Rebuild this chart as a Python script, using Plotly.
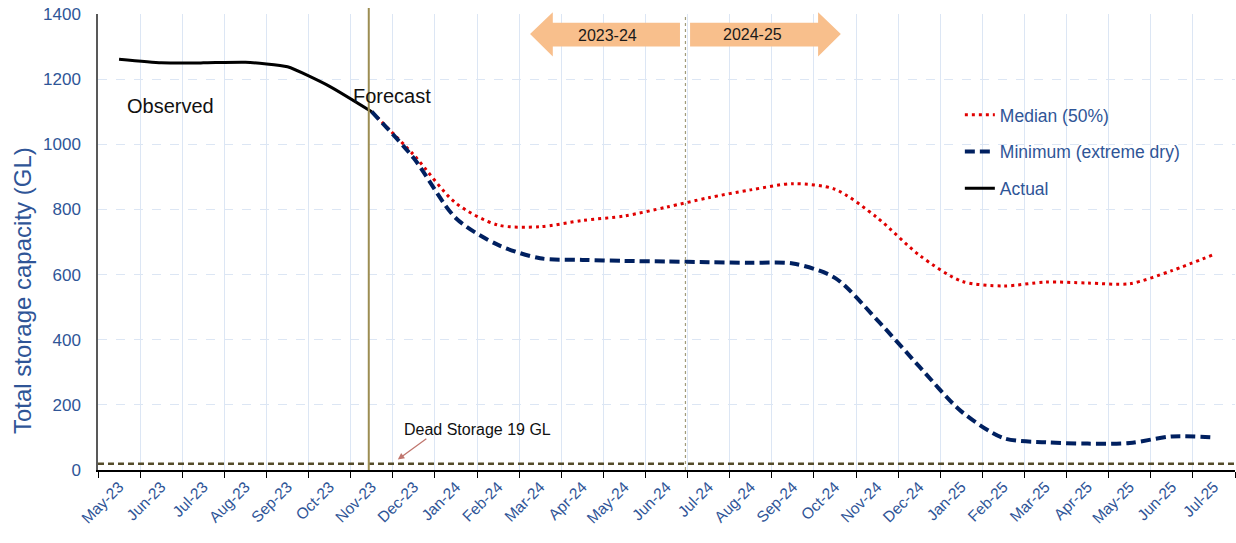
import plotly.graph_objects as go

months = ["May-23","Jun-23","Jul-23","Aug-23","Sep-23","Oct-23","Nov-23","Dec-23",
          "Jan-24","Feb-24","Mar-24","Apr-24","May-24","Jun-24","Jul-24","Aug-24",
          "Sep-24","Oct-24","Nov-24","Dec-24","Jan-25","Feb-25","Mar-25","Apr-25",
          "May-25","Jun-25","Jul-25"]

actual_months = months[0:7]
actual = [1261, 1250, 1250, 1252, 1238, 1178, 1100]

forecast_months = months[6:]
median = [1100, 967, 819, 752, 747, 766, 780, 807, 836, 860, 879, 862, 775, 660,
          580, 565, 577, 574, 572, 612, 662]
minimum = [1100, 957, 773, 691, 650, 645, 642, 640, 638, 636, 634, 590, 461, 318,
           180, 98, 85, 81, 83, 103, 100]

dead_storage = 19
yticks = [0, 200, 400, 600, 800, 1000, 1200, 1400]

idx = {m: i for i, m in enumerate(months)}
FONT = "Liberation Sans, Arial, sans-serif"
BLUE_TXT = "#2F5597"

fig = go.Figure()

fig.add_trace(go.Scatter(
    x=[idx[m] for m in forecast_months], y=median, mode="lines",
    name="Median (50%)", legendgroup="a",
    line=dict(color="#E00000", width=3, dash="3px,4px", shape="spline", smoothing=0.8)))
fig.add_trace(go.Scatter(
    x=[idx[m] for m in forecast_months], y=minimum, mode="lines",
    name="Minimum (extreme dry)", legendgroup="b",
    line=dict(color="#002060", width=4, dash="10px,5px", shape="spline", smoothing=0.8)))
fig.add_trace(go.Scatter(
    x=[idx[m] for m in actual_months], y=actual, mode="lines",
    name="Actual", legendgroup="c",
    line=dict(color="#000000", width=3, shape="spline", smoothing=0.5)))

# dead storage line
fig.add_hline(y=dead_storage, line=dict(color="#554C2A", width=2.5, dash="6px,4px"), layer="above")

# forecast vertical line
fig.add_shape(type="line", xref="x", yref="paper", x0=5.93, x1=5.93, y0=0, y1=1.013,
              line=dict(color="#9C8D52", width=2), layer="above")
# financial year divider
fig.add_shape(type="line", xref="x", yref="paper", x0=13.45, x1=13.45, y0=0, y1=1,
              line=dict(color="#A09B7A", width=1.2, dash="dot"), layer="above")

ARROW = "#F8BF8C"
# left arrow 2023-24
fig.add_shape(type="path", xref="x", yref="paper", fillcolor=ARROW, line=dict(width=0),
              path="M 9.76 0.956 L 10.30 1.004 L 10.30 0.981 L 13.32 0.981 L 13.32 0.929 "
                   "L 10.30 0.929 L 10.30 0.907 Z")
# right arrow 2024-25
fig.add_shape(type="path", xref="x", yref="paper", fillcolor=ARROW, line=dict(width=0),
              path="M 17.14 0.956 L 16.60 1.004 L 16.60 0.981 L 13.56 0.981 L 13.56 0.929 "
                   "L 16.60 0.929 L 16.60 0.907 Z")

ARR_FONT = dict(size=16, color="#1A1A1A", family="Liberation Sans, Arial")
ann = [
    dict(x=11.6, y=0.953, xref="x", yref="paper", text="2023-24", showarrow=False,
         xanchor="center", yanchor="middle", font=ARR_FONT),
    dict(x=15.05, y=0.956, xref="x", yref="paper", text="2024-25", showarrow=False,
         xanchor="center", yanchor="middle", font=ARR_FONT),
    dict(x=1.21, y=1117, text="Observed", showarrow=False, xanchor="center", yanchor="middle",
         font=dict(size=20, color="#111111")),
    dict(x=6.48, y=1148, text="Forecast", showarrow=False, xanchor="center", yanchor="middle",
         font=dict(size=20, color="#111111")),
    dict(x=8.5, y=124, text="Dead Storage 19 GL", showarrow=False, xanchor="center",
         yanchor="middle", font=dict(size=16, color="#111111")),
    dict(x=6.62, y=32, ax=30, ay=-22, text="", showarrow=True, arrowhead=2, arrowsize=1,
         arrowwidth=1.3, arrowcolor="#C0766E"),
    dict(x=-0.0668, y=0.3925, xref="paper", yref="paper", text="Total storage capacity (GL)",
         textangle=-90, showarrow=False, xanchor="center", yanchor="middle",
         font=dict(size=24, color=BLUE_TXT)),
]

fig.update_layout(
    width=1236, height=543,
    margin=dict(l=98, r=1, t=14, b=73, autoexpand=False),
    paper_bgcolor="white", plot_bgcolor="white",
    font=dict(family=FONT, color=BLUE_TXT),
    annotations=ann,
    showlegend=True,
    legend=dict(x=0.758, y=0.818, xanchor="left", yanchor="top",
                font=dict(size=17.5, color=BLUE_TXT), bgcolor="rgba(0,0,0,0)",
                tracegroupgap=11, itemwidth=30),
)

fig.update_xaxes(
    range=[-0.5, 26.5], tickmode="array", tickvals=list(range(len(months))), ticktext=months,
    tickangle=-45, tickfont=dict(size=15.5, color=BLUE_TXT), ticks="", showgrid=False,
    showline=True, linecolor="#000000", linewidth=1.5, zeroline=False, automargin=False,
    minor=dict(tickmode="linear", tick0=-0.5, dtick=1, ticks="outside", ticklen=6,
               tickcolor="#000000", showgrid=True, gridcolor="#DCE6F4", gridwidth=1),
)
fig.update_yaxes(
    range=[0, 1400], tickmode="array", tickvals=yticks, tickfont=dict(size=17, color=BLUE_TXT),
    showgrid=True, gridcolor="#DCE6F4", griddash="dash", gridwidth=1,
    showline=True, linecolor="#595959", linewidth=1.5, zeroline=False, ticks="",
    ticklabelstandoff=12, automargin=False,
)

fig.write_html("out.html", config={"displayModeBar": False},
               post_script="document.body.style.margin='0';document.body.style.overflow='hidden';")
